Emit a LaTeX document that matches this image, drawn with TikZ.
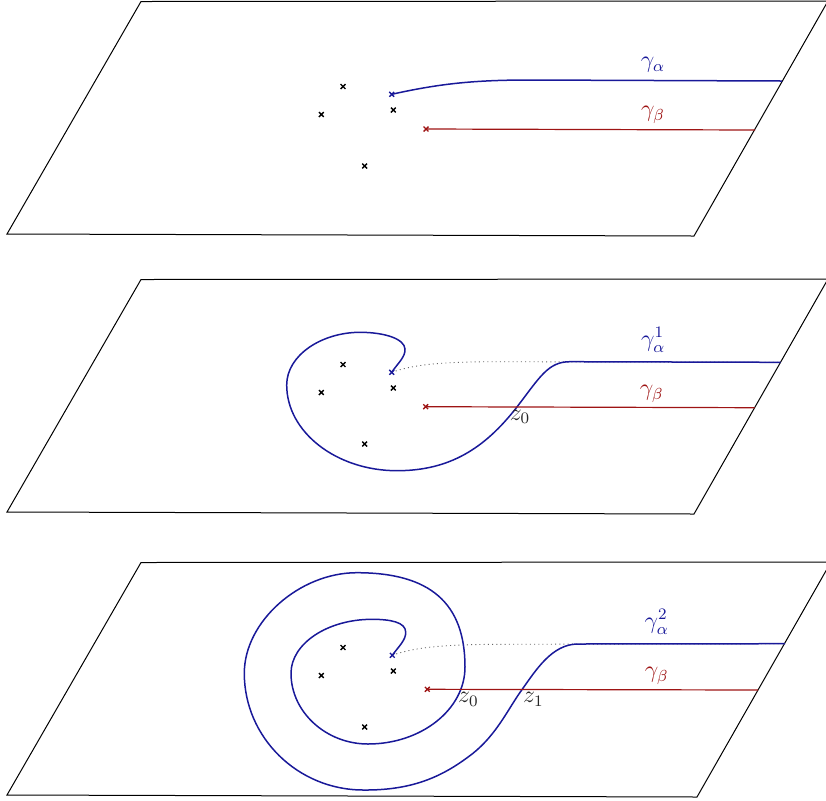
\documentclass[tikz,border=0pt]{standalone}
\definecolor{cblue}{rgb}{0.1,0.1,0.6}
\definecolor{cred}{rgb}{0.62,0.08,0.08}
\newcommand{\sheet}[3]{%
  \coordinate (tl#1) at (141,1.5);
  \coordinate (tr#1) at (#3,1);
  \coordinate (br#1) at (#2,236);
  \coordinate (bl#1) at (7,234);
  \draw[plane] (tl#1) -- (tr#1) -- (br#1) -- (bl#1) -- cycle;
}
\newcommand{\crossat}[3]{%
  \coordinate (#1) at (#2);
  \draw[crossmark,draw=#3] (#1) ++(-2.4,-2.4) -- ++(4.8,4.8) (#1) ++(-2.4,2.4) -- ++(4.8,-4.8);
}
\newcommand{\blackcrosses}[1]{%
  \crossat{a#1}{343,86.5}{black}
  \crossat{b#1}{321.3,114.5}{black}
  \crossat{c#1}{393.3,110}{black}
  \crossat{d#1}{364.7,166}{black}
}
\begin{document}
\begin{tikzpicture}[x=0.5pt,y=-0.5pt,
  plane/.style={draw=black,line width=0.5pt,line join=miter},
  crossmark/.style={line width=0.7pt},
  bluecurve/.style={draw=cblue,line width=0.75pt},
  redcurve/.style={draw=cred,line width=0.6pt},
  ghost/.style={draw=black!60,line width=0.45pt,dash pattern=on 0.5pt off 1.6pt},
  lbl/.style={font=\fontsize{11.5}{13}\selectfont,inner sep=0pt},
  zlbl/.style={font=\fontsize{11.5}{13}\selectfont,inner sep=0pt,text=black!85},
]
\useasboundingbox (0,0) rectangle (826,800);

% ---------- panel 1 ----------
\sheet{1}{694}{828}
\coordinate (p1) at (391.7,94.3);
\coordinate (j1) at (530,80);
\coordinate (e1) at (782,81);
\draw[bluecurve] (p1) .. controls (440,83.5) and (475,80) .. (j1) -- (e1);
\node[lbl,text=cblue] (ga1) at (653,65) {$\gamma_\alpha$};
\coordinate (q1) at (426,129);
\coordinate (f1) at (755,130);
\draw[redcurve] (q1) -- (f1);
\node[lbl,text=cred] (gb1) at (653,115) {$\gamma_\beta$};
\blackcrosses{1}
\crossat{pp1}{391.7,94.3}{cblue}
\crossat{qq1}{426,129}{cred}

% ---------- panel 2 ----------
\begin{scope}[shift={(0,278)}]
\sheet{2}{694}{828}
\coordinate (p2) at (391.7,94.3);
\coordinate (j2) at (570,83.7);
\coordinate (e2) at (780.5,84.3);
\draw[ghost] (p2) .. controls (415,86) and (445,83.7) .. (500,83.7) -- (e2);
\draw[bluecurve] (p2) .. controls (398,85) and (405.5,79) .. (405,71)
  .. controls (404.5,61) and (385,54.3) .. (360,54.3)
  .. controls (322,54.3) and (286.7,77) .. (286.7,107)
  .. controls (286.7,154) and (336.3,192.7) .. (397,192.7)
  .. controls (450,192.7) and (485,170) .. (516.7,129.3)
  .. controls (540,99) and (548,83.7) .. (j2) -- (e2);
\node[lbl,text=cblue] (ga2) at (653.3,62) {$\gamma_\alpha^1$};
\coordinate (q2) at (425.7,128.7);
\coordinate (f2) at (754.5,129.7);
\draw[redcurve] (q2) -- (f2);
\node[lbl,text=cred] (gb2) at (651.7,116) {$\gamma_\beta$};
\node[zlbl] (z02) at (520,138.7) {$z_0$};
\blackcrosses{2}
\crossat{pp2}{391.7,94.3}{cblue}
\crossat{qq2}{425.7,128.7}{cred}
\end{scope}

% ---------- panel 3 ----------
\begin{scope}[shift={(0,561)}]
\sheet{3}{697}{831}
\coordinate (p3) at (392.3,94.3);
\coordinate (j3) at (578,83);
\coordinate (e3) at (785,82.7);
\draw[ghost] (p3) .. controls (415,86) and (445,83.5) .. (500,83.3) -- (e3);
\draw[bluecurve] (p3) .. controls (399,85) and (406,79) .. (405.7,71)
  .. controls (405.5,61) and (390,58.3) .. (372,58.3)
  .. controls (327.5,58.3) and (291,82.6) .. (291,112.3)
  .. controls (291,151) and (326,183) .. (368,183)
  .. controls (421.4,183) and (465,148.4) .. (465,106)
  .. controls (465,42) and (430,11.7) .. (356.7,11.7)
  .. controls (300,11.7) and (244.3,60) .. (244.3,112.3)
  .. controls (244.3,176.5) and (297.9,229) .. (363.3,229)
  .. controls (415,229.5) and (445,214) .. (473,192.3)
  .. controls (497,173) and (508,148) .. (521.7,129)
  .. controls (536,109) and (552,83) .. (j3) -- (e3);
\node[lbl,text=cblue] (ga3) at (656.7,60.7) {$\gamma_\alpha^2$};
\coordinate (q3) at (427.3,128.3);
\coordinate (f3) at (758,129);
\draw[redcurve] (q3) -- (f3);
\node[lbl,text=cred] (gb3) at (656.7,115) {$\gamma_\beta$};
\node[zlbl] (z03) at (468.3,138.3) {$z_0$};
\node[zlbl] (z13) at (533.3,138.3) {$z_1$};
\blackcrosses{3}
\crossat{pp3}{392.3,94.3}{cblue}
\crossat{qq3}{427.3,128.3}{cred}
\end{scope}
\end{tikzpicture}
\end{document}
